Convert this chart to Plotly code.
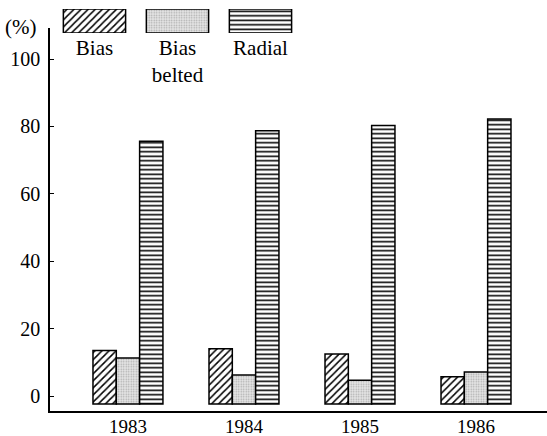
import plotly.graph_objects as go

# ---- data ----
years = ["1983", "1984", "1985", "1986"]
bias = [13.5, 14.0, 12.5, 5.7]
bias_belted = [11.3, 6.2, 4.7, 7.1]
radial = [75.6, 78.7, 80.3, 82.2]
y_ticks = [0, 20, 40, 60, 80, 100]
legend_names = ["Bias", "Bias<br>belted", "Radial"]

# ---- styling ----
BAR_BASE = -2.4
FONT = "Liberation Serif, Times New Roman, Times, serif"
W, H = 547, 436
styles = [
    dict(shape="/", size=5, solidity=0.3, fgcolor="black", bgcolor="white"),
    dict(shape=".", size=2.5, solidity=0.3, fgcolor="#aaaaaa", bgcolor="#e6e6e6"),
    dict(shape="-", size=4.5, solidity=0.35, fgcolor="black", bgcolor="white"),
]
series = [bias, bias_belted, radial]

fig = go.Figure()
for vals, st, nm in zip(series, styles, legend_names):
    fig.add_trace(go.Bar(
        x=years, y=[v - BAR_BASE for v in vals], base=BAR_BASE,
        name=nm.replace("<br>", " "),
        marker=dict(color=st["bgcolor"], pattern=st,
                    line=dict(color="black", width=1.5)),
        showlegend=False,
    ))

# legend drawn as swatch bars on a small secondary axis
for st, nm in zip(styles, legend_names):
    fig.add_trace(go.Bar(
        x=[nm], y=[1], xaxis="x2", yaxis="y2",
        offsetgroup="legend", width=0.75,
        marker=dict(color=st["bgcolor"], pattern=st,
                    line=dict(color="black", width=1.5)),
        showlegend=False, hoverinfo="skip",
    ))

fig.update_layout(
    template="none",
    width=W, height=H,
    margin=dict(l=50, r=0, t=5, b=25, autoexpand=False),
    paper_bgcolor="white", plot_bgcolor="white",
    font=dict(family=FONT, size=19, color="black"),
    barmode="group", bargap=0.397, bargroupgap=0,
    xaxis=dict(
        type="category", range=[-0.672, 3.612], automargin=False,
        showline=True, linecolor="black", linewidth=1.5,
        ticks="", ticklen=0, showgrid=False, zeroline=False,
        ticklabelstandoff=-3,
        tickfont=dict(family=FONT, size=19),
    ),
    yaxis=dict(
        domain=[0, 0.9433], range=[-4.45, 109.2], automargin=False,
        tickvals=y_ticks, ticks="inside", ticklen=4, tickcolor="black",
        showline=True, linecolor="black", linewidth=1.5,
        showgrid=False, zeroline=False, ticklabelstandoff=4,
        tickfont=dict(family=FONT, size=20),
    ),
    xaxis2=dict(
        type="category", domain=[0.006, 0.507], anchor="y2", automargin=False,
        range=[-0.5, 2.5],
        showline=False, ticks="", ticklen=0, showgrid=False, zeroline=False,
        ticklabelstandoff=0, tickfont=dict(family=FONT, size=21),
    ),
    yaxis2=dict(
        domain=[0.931, 0.99], range=[0, 1], anchor="x2", automargin=False,
        visible=False,
    ),
    annotations=[dict(
        text="(%)", xref="paper", yref="paper",
        x=-0.095, y=0.945, xanchor="left", yanchor="middle",
        showarrow=False, font=dict(family=FONT, size=21),
    )],
)

fig.write_html(
    "out.html",
    config={"displayModeBar": False},
    post_script="document.body.style.margin='0';document.body.style.overflow='hidden';",
)
